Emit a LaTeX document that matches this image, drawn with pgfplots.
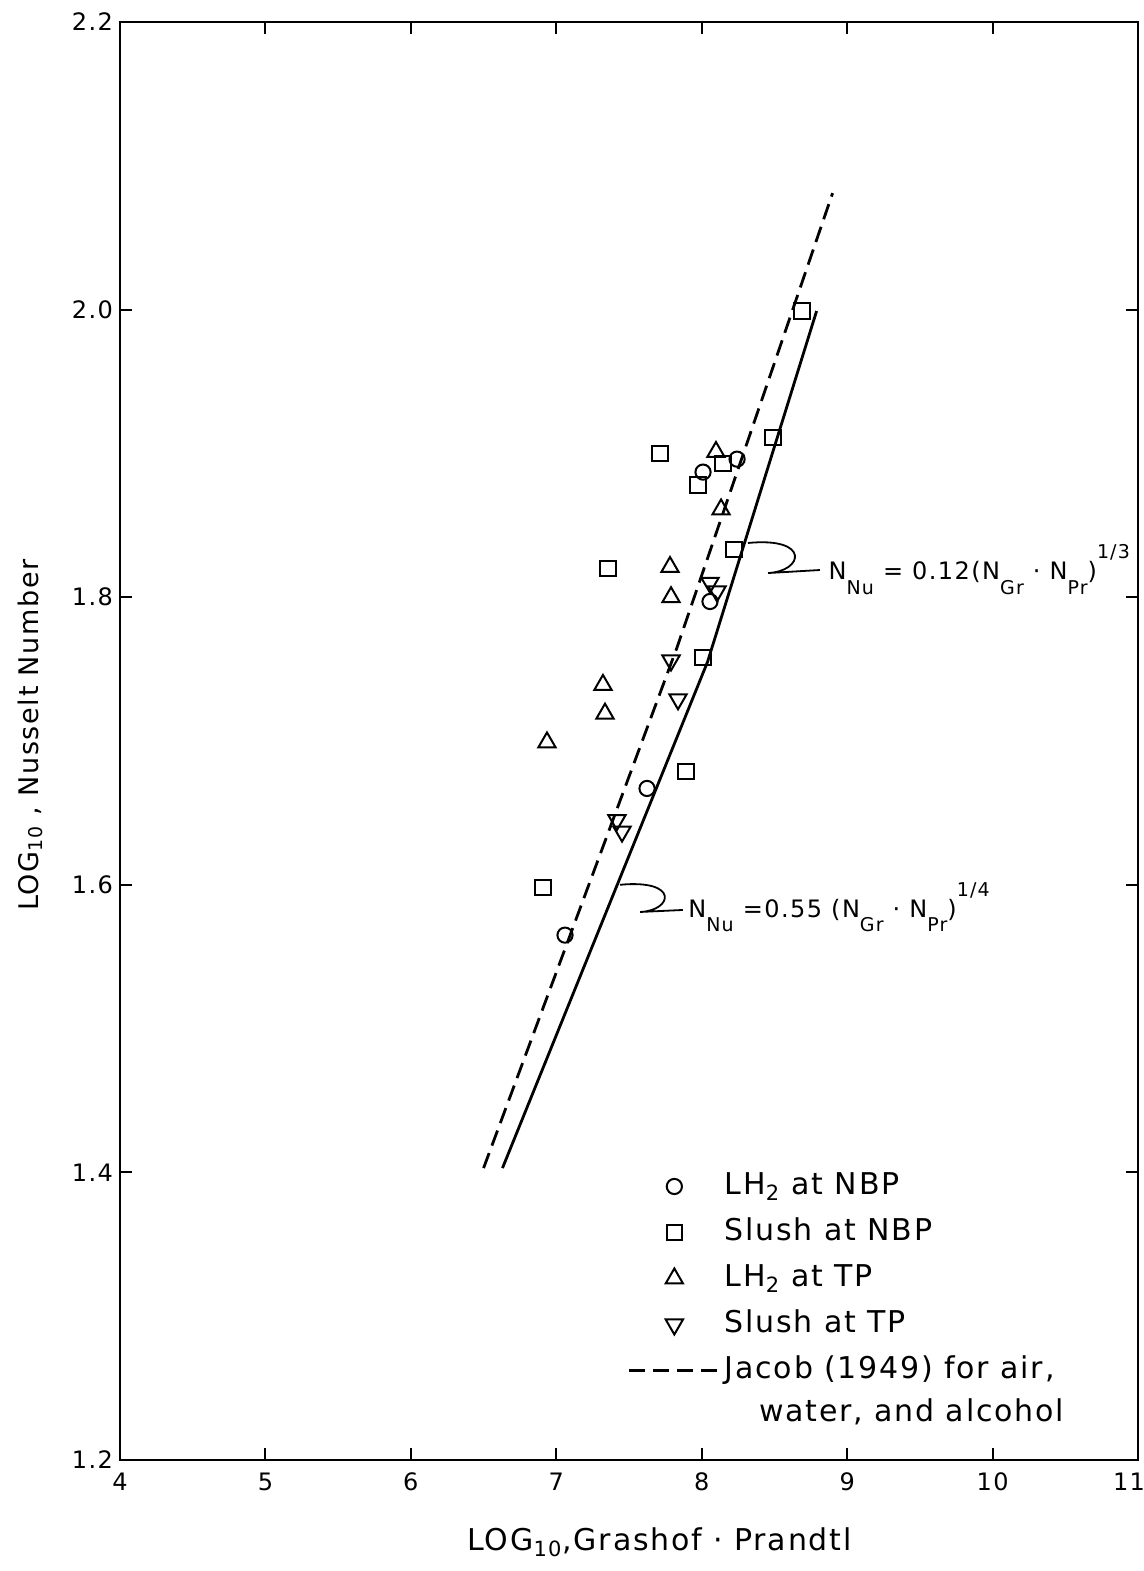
\documentclass[border=0pt]{standalone}
\usepackage{pgfplots}
\pgfplotsset{compat=1.18}
\usepackage{fontspec}
\setmainfont{DejaVu Sans}[LetterSpace=6.0]
\begin{document}
\begin{tikzpicture}
\path[use as bounding box] (-60pt,-55.5pt) rectangle (512pt,730pt);
\begin{axis}[
  at={(0pt,0pt)}, anchor=south west,
  scale only axis, width=509pt, height=719pt,
  xmin=4, xmax=11, ymin=1.2, ymax=2.2,
  xtick={4,5,6,7,8,9,10,11},
  xticklabels={4,5,6,7,8,9,10,\makebox[0pt][c]{\hspace*{-9pt}11}},
  ytick={1.2,1.4,1.6,1.8,2.0,2.2}, yticklabels={1.2,1.4,1.6,1.8,2.0,2.2},
  tick align=inside, major tick length=6pt,
  tick style={line width=1pt, black},
  axis line style={line width=1.4pt},
  ticklabel style={font=\fontsize{12}{13}\selectfont},
  xticklabel style={yshift=-3pt},
  clip=false,
  legend style={draw=none, fill=none, at={(axis cs:7.49,1.403)}, anchor=north west,
    inner sep=0pt, row sep=5pt, column sep=0pt,
    font=\fontsize{15}{18}\selectfont,
    nodes={inner sep=2pt, text height=11pt, text depth=3pt}},
  legend cell align=left,
  legend image code/.code={\draw[mark repeat=2,mark phase=2,#1] plot coordinates {(0pt,0pt) (22.5pt,0pt) (45pt,0pt)};},
]
% LH2 at NBP
\addplot[only marks, mark=o, mark size=3.8pt, mark options={line width=1pt, black}] coordinates {
 (8.009,1.887) (8.243,1.896) (8.057,1.797) (7.624,1.667) (7.060,1.565)};
\addlegendentry{LH\textsubscript{2} at NBP}
% Slush at NBP
\addplot[only marks, mark=square, mark size=3.8pt, mark options={line width=1pt, black}] coordinates {
 (7.713,1.900) (8.146,1.893) (7.974,1.878) (8.490,1.911) (8.222,1.833)
 (7.356,1.820) (8.009,1.758) (7.892,1.679) (6.909,1.598) (8.690,1.999)};
\addlegendentry{Slush at NBP}
% LH2 at TP
\addplot[only marks, mark=triangle, mark size=5pt, mark options={line width=1pt, black}] coordinates {
 (8.098,1.901) (8.133,1.861) (7.782,1.821) (7.789,1.800) (7.321,1.739) (7.335,1.719) (6.936,1.699)};
\addlegendentry{LH\textsubscript{2} at TP}
% Slush at TP
\addplot[only marks, mark=triangle, mark size=5pt, mark options={line width=1pt, black, rotate=180}] coordinates {
 (8.057,1.810) (8.105,1.804) (7.789,1.756) (7.837,1.729) (7.417,1.645) (7.452,1.637)};
\addlegendentry{Slush at TP}
% Jacob
\addplot[black, line width=1.4pt, dash pattern=on 8pt off 4pt] coordinates {
 (6.50,1.403) (7.83,1.765) (8.90,2.081)};
\addlegendentry{Jacob (1949) for air,}
% fit
\addplot[black, line width=1.4pt, forget plot] coordinates {
 (6.63,1.403) (8.04,1.755) (8.79,1.999)};

\node[anchor=base west, font=\fontsize{15}{18}\selectfont] at (axis cs:8.346,1.2265) {water, and alcohol};

% annotations
\draw[line width=0.9pt] (axis cs:8.318,1.8377) .. controls (axis cs:8.75,1.842) and (axis cs:8.70,1.818) .. (axis cs:8.456,1.8168) -- (axis cs:8.813,1.8189);
\node[anchor=base west, inner sep=0pt, font=\fontsize{12}{14}\selectfont] at (axis cs:8.87,1.812)
 {N\raisebox{-1.1ex}{\fontsize{9.5}{10}\selectfont Nu} = 0.12(N\raisebox{-1.1ex}{\fontsize{9.5}{10}\selectfont Gr} · N\raisebox{-1.1ex}{\fontsize{9.5}{10}\selectfont Pr})\raisebox{1.6ex}{\fontsize{9.5}{10}\selectfont 1/3}};

\draw[line width=0.9pt] (axis cs:7.438,1.600) .. controls (axis cs:7.85,1.604) and (axis cs:7.80,1.582) .. (axis cs:7.576,1.5811) -- (axis cs:7.871,1.5825);
\node[anchor=base west, inner sep=0pt, font=\fontsize{12}{14}\selectfont] at (axis cs:7.906,1.5776)
 {N\raisebox{-1.1ex}{\fontsize{9.5}{10}\selectfont Nu} =0.55 (N\raisebox{-1.1ex}{\fontsize{9.5}{10}\selectfont Gr} · N\raisebox{-1.1ex}{\fontsize{9.5}{10}\selectfont Pr})\raisebox{1.6ex}{\fontsize{9.5}{10}\selectfont 1/4}};

% axis labels
\node[rotate=90, font=\fontsize{13.5}{15}\selectfont] at (axis description cs:-0.088,0.504) {LOG\textsubscript{10} , Nusselt Number};
\node[font=\fontsize{15}{17}\selectfont] at (axis description cs:0.530,-0.057) {LOG\textsubscript{10},Grashof · Prandtl};
\end{axis}
\end{tikzpicture}
\end{document}
